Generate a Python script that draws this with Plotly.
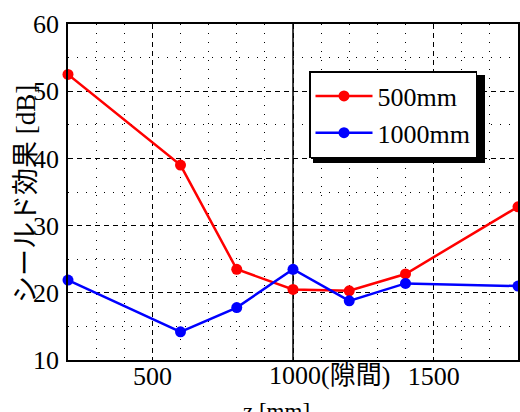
import plotly.graph_objects as go

z_mm = [200, 600, 800, 1000, 1200, 1400, 1800]
se_500mm = [52.5, 39.0, 23.5, 20.5, 20.3, 22.8, 32.8]
se_1000mm = [21.9, 14.2, 17.8, 23.5, 18.8, 21.4, 21.0]
series_names = ["500mm", "1000mm"]
x_tick_vals = [500, 1000, 1500]
x_tick_text = ["500", "", "1500"]
gap_label = "1000(隙間)"
x_title = "z [mm]"
y_title = "シールド効果 [dB]"

FONT = "Liberation Serif, Times New Roman, Noto Sans CJK JP, serif"

fig = go.Figure()
fig.add_trace(go.Scatter(x=z_mm, y=se_500mm, name=series_names[0], mode="lines+markers",
                         line=dict(color="#ff0000", width=2.5),
                         marker=dict(color="#ff0000", size=11), cliponaxis=False))
fig.add_trace(go.Scatter(x=z_mm, y=se_1000mm, name=series_names[1], mode="lines+markers",
                         line=dict(color="#0000ff", width=2.5),
                         marker=dict(color="#0000ff", size=11), cliponaxis=False))

L, R, T, B = 68, 2, 24, 52
W, H = 520, 412
pw, ph = W - L - R, H - T - B

def px2paper_x(px):
    return (px - L) / pw

def px2paper_y(py):
    return (H - B - py) / ph

# vertical solid line at the gap position
fig.add_shape(type="line", xref="x", yref="paper", x0=1000, x1=1000, y0=0, y1=1,
              line=dict(color="black", width=1.5), layer="below")

# legend shadow
lx0, ly0, lx1, ly1 = 309, 71, 481, 159
fig.add_shape(type="rect", xref="paper", yref="paper",
              x0=px2paper_x(lx0 + 4), x1=px2paper_x(lx1 + 4),
              y0=px2paper_y(ly1 + 4), y1=px2paper_y(ly0 + 4),
              fillcolor="black", line=dict(width=0), layer="above")

fig.add_annotation(x=1000, y=0, xref="x", yref="paper", text=gap_label, showarrow=False,
                   xanchor="left", yanchor="top", xshift=-26, yshift=1,
                   font=dict(family=FONT, size=26, color="black"))

fig.add_annotation(x=px2paper_x(276), y=px2paper_y(397), xref="paper", yref="paper",
                   text=x_title, showarrow=False, xanchor="center", yanchor="top",
                   font=dict(family=FONT, size=23, color="black"))

fig.add_annotation(x=px2paper_x(26), y=px2paper_y(194), xref="paper", yref="paper",
                   text=y_title, showarrow=False, xanchor="center", yanchor="middle",
                   textangle=-90,
                   font=dict(family=FONT, size=27, color="black"))

fig.update_layout(
    width=W, height=H,
    margin=dict(l=L, r=R, t=T, b=B, autoexpand=False),
    paper_bgcolor="white", plot_bgcolor="white",
    font=dict(family=FONT, color="black"),
    showlegend=True,
    legend=dict(x=px2paper_x(lx0), y=px2paper_y(ly0), xanchor="left", yanchor="top",
                bgcolor="white", bordercolor="black", borderwidth=1.5,
                font=dict(family=FONT, size=26, color="black"),
                tracegroupgap=0, itemwidth=57),
    xaxis=dict(range=[200, 1800], tickvals=x_tick_vals, ticktext=x_tick_text,
               automargin=False,
               showgrid=True, gridcolor="black", gridwidth=1, griddash="5px,4px",
               minor=dict(dtick=100, tick0=0, showgrid=True, gridcolor="black",
                          gridwidth=1, griddash="1px,8px"),
               showline=True, linecolor="black", linewidth=1.5, mirror=True,
               ticks="", zeroline=False, ticklabelstandoff=-8,
               tickfont=dict(family=FONT, size=26, color="black")),
    yaxis=dict(range=[10, 60], dtick=10, tick0=0, automargin=False,
               showgrid=True, gridcolor="black", gridwidth=1, griddash="5px,4px",
               minor=dict(dtick=5, tick0=0, showgrid=True, gridcolor="black",
                          gridwidth=1, griddash="1px,8px"),
               showline=True, linecolor="black", linewidth=1.5, mirror=True,
               ticks="", zeroline=False, ticklabelstandoff=2,
               tickfont=dict(family=FONT, size=26, color="black")),
)

fig.write_html("out.html", config={"displayModeBar": False},
               post_script="document.body.style.margin='0';document.body.style.overflow='hidden';")
